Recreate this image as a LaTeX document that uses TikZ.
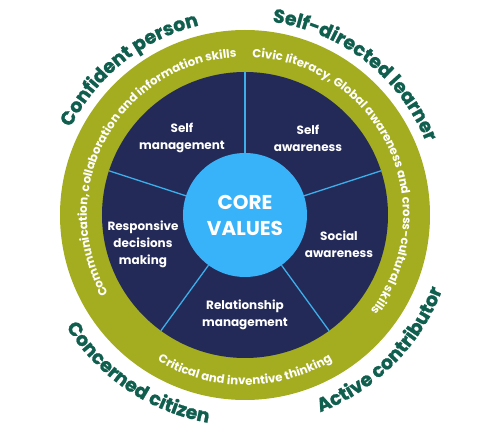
\documentclass[tikz,border=0pt]{standalone}
\usepackage{fontspec}
\setmainfont{Poppins}
\newfontfamily\heavyfam{Poppins}[BoldFeatures={FakeBold=1.2}]
\usetikzlibrary{decorations.text}
\definecolor{ringgreen}{RGB}{163,173,31}
\definecolor{navyfill}{RGB}{35,42,88}
\definecolor{coreblue}{RGB}{56,178,248}
\definecolor{divblue}{RGB}{60,175,235}
\definecolor{outteal}{RGB}{16,94,78}
\newcommand\outfont{\heavyfam\bfseries\fontsize{19}{19}\selectfont}
\newcommand\ringfont{\bfseries\fontsize{11.8}{11.8}\selectfont}
\begin{document}
\begin{tikzpicture}[x=1pt,y=1pt,
  disc/.style={circle, inner sep=0pt, outer sep=0pt},
  lbl/.style={text=white, font=\bfseries\fontsize{12}{17}\selectfont, align=center},
  divline/.style={draw=divblue, line width=1.3pt},
  outertext/.style={decorate, decoration={text along path, text color=outteal, text align=center, text={|\outfont|#1}}},
  ringtext/.style={decorate, decoration={text along path, text color=white, text align=center, text={|\ringfont|#1}}},
]
\useasboundingbox (-245,-218) rectangle (243,215);
\node[disc, fill=ringgreen, minimum size=370] (ring) at (0,0) {};
\node[disc, fill=navyfill, minimum size=286] (navy) at (0,0) {};
\node[disc, fill=coreblue, minimum size=124, text=white, align=center,
  font=\bfseries\fontsize{20}{26}\selectfont] (core) at (0,0) {CORE\\VALUES};
\foreach \a in {90,18,-54,-126,162} \draw[divline] (core.\a) -- (navy.\a);
\node[lbl] (selfman) at (-63,77) {Self\\management};
\node[lbl] (selfaw) at (63,77) {Self\\awareness};
\node[lbl] (socaw) at (94,-29) {Social\\awareness};
\node[lbl] (resp) at (-102,-29) {Responsive\\decisions\\making};
\node[lbl] (rel) at (0,-100) {Relationship\\management};
% ring texts
\path[ringtext={Communication, collaboration and information skills}] (241.5:158) arc[start angle=241.5, end angle=61.5, radius=158];
\path[ringtext={Civic literacy, Global awareness and cross-cultural skills}] (115:158) arc[start angle=115, end angle=-65, radius=158];
\path[ringtext={Critical and inventive thinking}] (-180:170) arc[start angle=-180, end angle=0, radius=170];
% outer texts
\path[outertext={Confident person}] (188.5:195) arc[start angle=188.5, end angle=68.5, radius=195];
\path[outertext={Self-directed learner}] (112:195) arc[start angle=112, end angle=-8, radius=195];
\path[outertext={Concerned citizen}] (-184:211) arc[start angle=-184, end angle=-64, radius=211];
\path[outertext={Active contributor}] (-105:211) arc[start angle=-105, end angle=15, radius=211];
\end{tikzpicture}
\end{document}
